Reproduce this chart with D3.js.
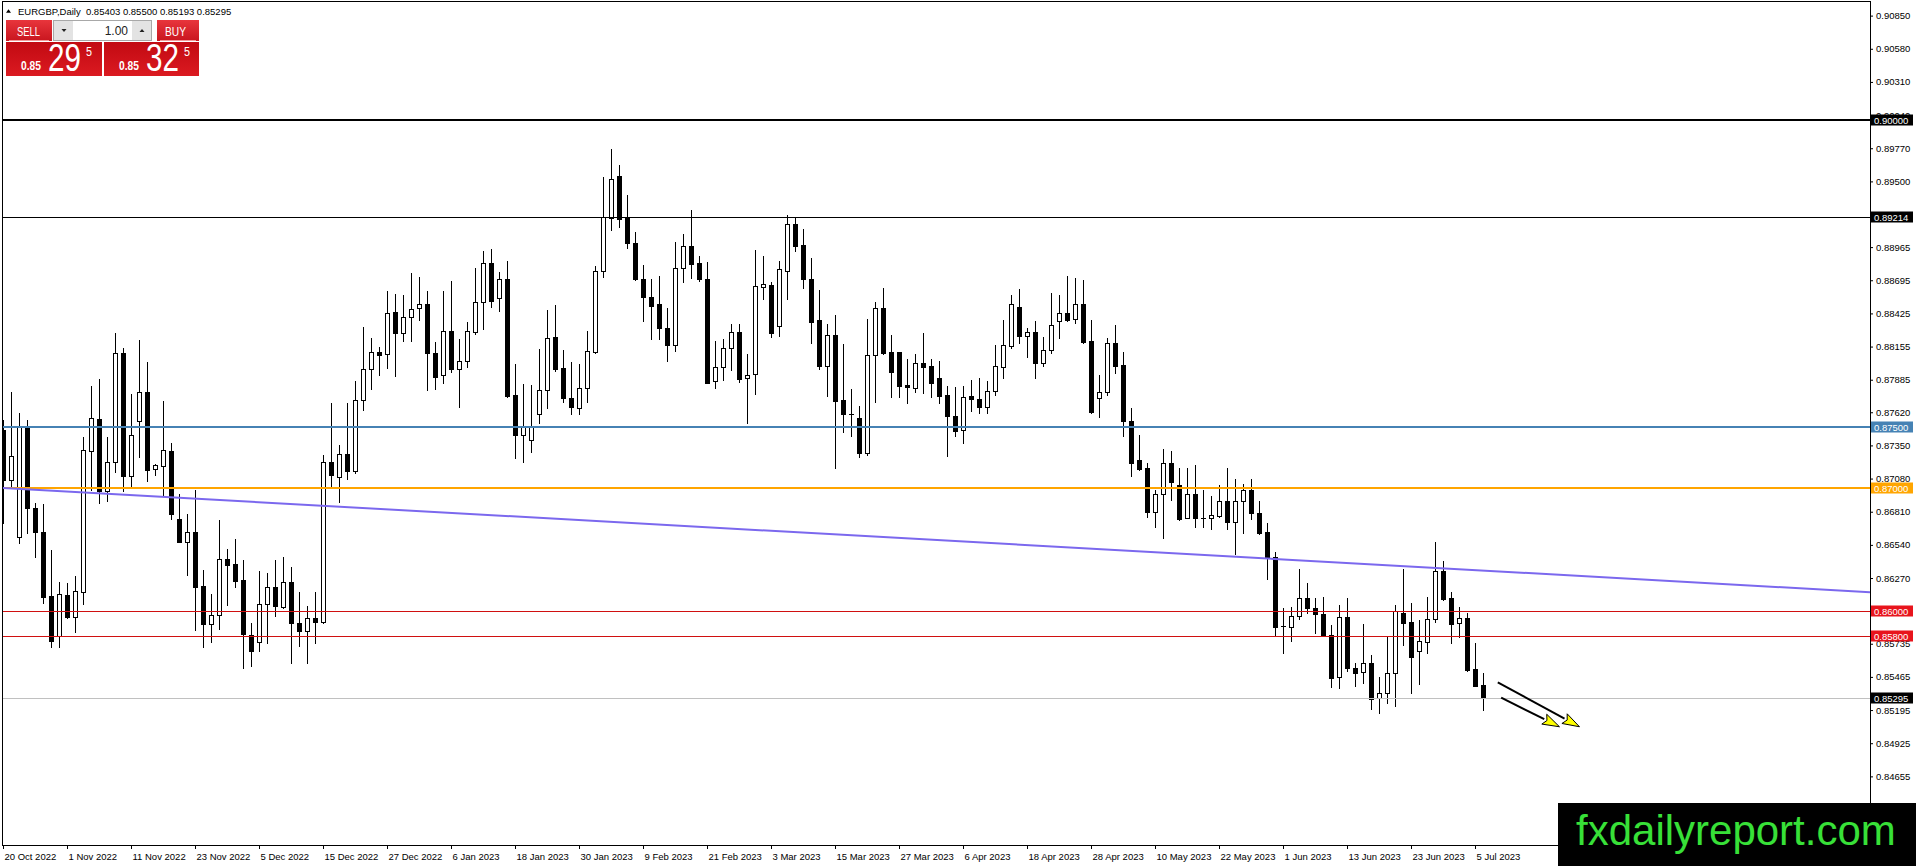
<!DOCTYPE html>
<html>
<head>
<meta charset="utf-8">
<script src="https://cdn.jsdelivr.net/npm/d3@7"></script>
<style>
html, body { margin: 0; padding: 0; background: #fff; overflow: hidden; }
svg { display: block; }
text { font-family: "Liberation Sans", Arial, sans-serif; }
</style>
</head>
<body>
<svg id="chart" width="1916" height="866"></svg>
<script>
// EURGBP daily bars, 20 Oct 2022 .. 6 Jul 2023
const open = [
  0.87476,0.87069,0.86602,0.87489,0.86838,0.86643,0.86125,0.85799,0.86133,0.85956,
  0.86160,0.87308,0.87563,0.86982,0.87213,0.88100,0.87104,0.87552,0.87785,0.87156,
  0.87185,0.87305,0.86751,0.86567,0.86645,0.86206,0.85896,0.85967,0.86423,0.86385,
  0.86255,0.85807,0.85753,0.86057,0.86201,0.86038,0.86236,0.85902,0.85842,0.85943,
  0.85916,0.87218,0.87096,0.87278,0.87145,0.87718,0.87970,0.88108,0.88092,0.88434,
  0.88263,0.88393,0.88467,0.88499,0.88100,0.87921,0.88279,0.87975,0.88035,0.88271,
  0.88521,0.88833,0.88548,0.88703,0.87758,0.87435,0.87394,0.87603,0.87802,0.88230,
  0.87978,0.87734,0.87652,0.87815,0.88108,0.88771,0.89199,0.89544,0.89199,0.88996,
  0.88703,0.88556,0.88502,0.88304,0.88171,0.88792,0.88974,0.88833,0.88703,0.87872,
  0.87992,0.88141,0.88271,0.87902,0.87932,0.88643,0.88657,0.88326,0.88774,0.89154,
  0.88983,0.88703,0.88372,0.88000,0.88250,0.87721,0.87604,0.87571,0.87286,0.88087,
  0.88467,0.88109,0.88109,0.87843,0.87821,0.88019,0.87997,0.87897,0.87761,0.87590,
  0.87476,0.87753,0.87729,0.87666,0.87794,0.87992,0.88163,0.88475,0.88244,0.88271,
  0.88024,0.88127,0.88366,0.88426,0.88377,0.88502,0.88201,0.87734,0.87788,0.88182,
  0.88005,0.87552,0.87232,0.87164,0.86805,0.86952,0.87205,0.87025,0.86757,0.86952,
  0.86757,0.86757,0.86778,0.86898,0.86724,0.86898,0.86987,0.86797,0.86642,0.86444,
  0.85879,0.85874,0.85964,0.86105,0.86023,0.85975,0.85806,0.85462,0.85950,0.85535,
  0.85502,0.85576,0.85291,0.85337,0.85494,0.85988,0.85910,0.85679,0.85752,0.85934,
  0.86327,0.86105,0.85901,0.85942,0.85527,0.85403
];
const high = [
  0.87557,0.87788,0.87612,0.87557,0.86879,0.86873,0.86499,0.86235,0.86227,0.86287,
  0.87416,0.87834,0.87888,0.87422,0.88263,0.88141,0.87769,0.88209,0.88032,0.87199,
  0.87712,0.87367,0.86955,0.86792,0.86987,0.86336,0.86138,0.86743,0.86507,0.86586,
  0.86417,0.85900,0.86328,0.86315,0.86418,0.86445,0.86358,0.86160,0.86043,0.86160,
  0.87272,0.87699,0.87354,0.87699,0.87878,0.88312,0.88222,0.88155,0.88608,0.88581,
  0.88575,0.88752,0.88724,0.88608,0.88193,0.88608,0.88689,0.88220,0.88358,0.88792,
  0.88933,0.88947,0.88765,0.88852,0.88013,0.87850,0.87842,0.88133,0.88453,0.88494,
  0.88127,0.88032,0.88013,0.88282,0.88811,0.89539,0.89764,0.89634,0.89389,0.89085,
  0.88819,0.88703,0.88730,0.88467,0.89007,0.89069,0.89267,0.88893,0.88841,0.88200,
  0.88214,0.88339,0.88339,0.88092,0.88942,0.88893,0.88684,0.88852,0.89227,0.89200,
  0.89110,0.88874,0.88616,0.88339,0.88413,0.88177,0.87810,0.87672,0.88380,0.88516,
  0.88630,0.88250,0.88109,0.88054,0.88095,0.88263,0.88054,0.88041,0.87837,0.87829,
  0.87835,0.87883,0.87897,0.87875,0.88168,0.88372,0.88575,0.88621,0.88304,0.88363,
  0.88230,0.88589,0.88575,0.88730,0.88711,0.88697,0.88371,0.87924,0.88222,0.88331,
  0.88108,0.87658,0.87435,0.87205,0.86987,0.87318,0.87305,0.87164,0.87164,0.87191,
  0.86987,0.86938,0.87028,0.87164,0.87077,0.87036,0.87077,0.86900,0.86716,0.86479,
  0.86023,0.86032,0.86341,0.86227,0.86105,0.86118,0.85888,0.86051,0.86105,0.85581,
  0.85896,0.85643,0.85467,0.85793,0.86051,0.86341,0.86064,0.85928,0.86118,0.86561,
  0.86412,0.86159,0.86032,0.85988,0.85738,0.85500
];
const low = [
  0.86716,0.87001,0.86553,0.86634,0.86445,0.86070,0.85706,0.85706,0.85942,0.85834,
  0.86059,0.86987,0.86884,0.86901,0.87137,0.86982,0.87009,0.87253,0.87063,0.87109,
  0.86947,0.86751,0.86564,0.86295,0.85847,0.85706,0.85752,0.85853,0.86051,0.86195,
  0.85535,0.85550,0.85679,0.85745,0.85964,0.86030,0.85580,0.85717,0.85580,0.85745,
  0.85907,0.87001,0.86892,0.87074,0.87129,0.87639,0.87813,0.87927,0.87984,0.87919,
  0.88198,0.88203,0.88369,0.87802,0.87813,0.87861,0.87951,0.87666,0.87992,0.88258,
  0.88296,0.88480,0.88448,0.87742,0.87248,0.87215,0.87296,0.87530,0.87652,0.87959,
  0.87701,0.87603,0.87603,0.87701,0.88100,0.88719,0.89104,0.89126,0.88955,0.88697,
  0.88366,0.88214,0.88214,0.88038,0.88122,0.88678,0.88711,0.88686,0.87856,0.87815,
  0.87883,0.87964,0.87870,0.87530,0.87767,0.88540,0.88231,0.88244,0.88546,0.88936,
  0.88635,0.88187,0.87970,0.87756,0.87164,0.87457,0.87430,0.87259,0.87273,0.87702,
  0.88095,0.87748,0.87742,0.87693,0.87783,0.87775,0.87748,0.87693,0.87267,0.87430,
  0.87373,0.87634,0.87617,0.87612,0.87761,0.87897,0.88141,0.88187,0.88073,0.87897,
  0.87997,0.88100,0.88228,0.88366,0.88344,0.88187,0.87617,0.87579,0.87761,0.87937,
  0.87430,0.87104,0.87150,0.86770,0.86689,0.86594,0.86906,0.86746,0.86757,0.86683,
  0.86689,0.86667,0.86765,0.86667,0.86466,0.86640,0.86749,0.86629,0.86262,0.85806,
  0.85657,0.85760,0.85934,0.85983,0.85820,0.85795,0.85386,0.85372,0.85516,0.85394,
  0.85418,0.85201,0.85169,0.85255,0.85231,0.85725,0.85337,0.85407,0.85657,0.85915,
  0.86091,0.85744,0.85787,0.85516,0.85390,0.85193
];
const close = [
  0.87069,0.87264,0.87503,0.86844,0.86643,0.86119,0.85761,0.86138,0.85956,0.86162,
  0.87313,0.87571,0.86982,0.87213,0.88100,0.87104,0.87432,0.87785,0.87150,0.87191,
  0.87310,0.86792,0.86567,0.86645,0.86200,0.85896,0.85967,0.86423,0.86377,0.86249,
  0.85815,0.85679,0.86057,0.86201,0.86043,0.86236,0.85902,0.85842,0.85943,0.85916,
  0.87218,0.87110,0.87278,0.87145,0.87718,0.87970,0.88108,0.88089,0.88426,0.88263,
  0.88393,0.88458,0.88499,0.88100,0.87910,0.88279,0.87975,0.88035,0.88279,0.88515,
  0.88833,0.88529,0.88703,0.87753,0.87435,0.87500,0.87508,0.87802,0.88222,0.87975,
  0.87734,0.87666,0.87815,0.88119,0.88771,0.89207,0.89517,0.89191,0.88996,0.88703,
  0.88561,0.88488,0.88304,0.88171,0.88792,0.88974,0.88825,0.88703,0.87861,0.87992,
  0.88141,0.88271,0.87894,0.87926,0.88649,0.88662,0.88263,0.88784,0.89154,0.88977,
  0.88703,0.88358,0.88000,0.88250,0.87715,0.87604,0.87606,0.87292,0.88087,0.88467,
  0.88101,0.87951,0.87837,0.87824,0.88019,0.87992,0.87856,0.87756,0.87593,0.87471,
  0.87748,0.87729,0.87666,0.87794,0.87997,0.88168,0.88502,0.88244,0.88271,0.88024,
  0.88127,0.88328,0.88426,0.88371,0.88502,0.88195,0.87625,0.87788,0.88182,0.88000,
  0.87552,0.87205,0.87156,0.86805,0.86952,0.87205,0.87055,0.86751,0.86952,0.86757,
  0.86760,0.86784,0.86898,0.86724,0.86898,0.86987,0.86797,0.86640,0.86439,0.85874,
  0.85882,0.85964,0.86105,0.86023,0.85975,0.85798,0.85454,0.85956,0.85540,0.85500,
  0.85581,0.85283,0.85331,0.85494,0.86002,0.85901,0.85630,0.85757,0.85934,0.86327,
  0.86100,0.85893,0.85942,0.85521,0.85394,0.85295
];

// one label every 8 bars
const xLabels = ["20 Oct 2022","1 Nov 2022","11 Nov 2022","23 Nov 2022","5 Dec 2022","15 Dec 2022",
  "27 Dec 2022","6 Jan 2023","18 Jan 2023","30 Jan 2023","9 Feb 2023","21 Feb 2023","3 Mar 2023",
  "15 Mar 2023","27 Mar 2023","6 Apr 2023","18 Apr 2023","28 Apr 2023","10 May 2023","22 May 2023",
  "1 Jun 2023","13 Jun 2023","23 Jun 2023","5 Jul 2023"];
const yTicks = [0.90850,0.90580,0.90310,0.90040,0.89770,0.89500,0.89230,0.88965,0.88695,0.88425,
  0.88155,0.87885,0.87620,0.87350,0.87080,0.86810,0.86540,0.86270,0.86000,0.85735,0.85465,
  0.85195,0.84925,0.84655];

// horizontal levels and the bid
const levelPrices = [0.90000, 0.89214, 0.87500, 0.87000, 0.86000, 0.85800];
const bidPrice = 0.85295;

// trend line (bar index, price), drawn as a ray
const trendIdx = [0, 185];
const trendPrice = [0.87004, 0.86331];

// two down arrows after the last bar
const arrowFromIdx = [186.85, 187.27];
const arrowFromPrice = [0.85421, 0.85296];
const arrowToIdx = [197.06, 194.56];
const arrowToPrice = [0.85059, 0.85059];

const header = "EURGBP,Daily  0.85403 0.85500 0.85193 0.85295";

// ---------------------------------------------------------------
const svg = d3.select("#chart");
const N = close.length;
const axisX = 1870;
const axisY = 845;

const x = d3.scaleLinear().domain([0, N - 1]).range([3, 3 + 8 * (N - 1)]);
const y = d3.scaleLinear().domain([0.86, 0.90]).range([611.2, 120]);

const levelColor = ["#000000", "#000000", "#4682B4", "#FFA500", "#D01010", "#D01010"];
const levelWidth = [2, 1, 2, 2, 1, 1];
const tagColor = ["#000000", "#000000", "#4682B4", "#FFA500", "#E8141C", "#E8141C"];

const defs = svg.append("defs");
defs.append("clipPath").attr("id", "plot")
  .append("rect").attr("x", 3).attr("y", 2).attr("width", axisX - 3).attr("height", axisY - 2);

const btnGrad = defs.append("linearGradient").attr("id", "btnGrad")
  .attr("x1", 0).attr("y1", 0).attr("x2", 0).attr("y2", 1);
btnGrad.append("stop").attr("offset", "0%").attr("stop-color", "#E8353C");
btnGrad.append("stop").attr("offset", "100%").attr("stop-color", "#C9161F");
const priceGrad = defs.append("linearGradient").attr("id", "priceGrad")
  .attr("x1", 0).attr("y1", 0).attr("x2", 0).attr("y2", 1);
priceGrad.append("stop").attr("offset", "0%").attr("stop-color", "#C20A12");
priceGrad.append("stop").attr("offset", "100%").attr("stop-color", "#DB1A21");

svg.append("rect").attr("width", 1916).attr("height", 866).attr("fill", "#fff");

const plot = svg.append("g").attr("clip-path", "url(#plot)");

// candles
const bars = d3.range(N);
const cg = plot.append("g").attr("shape-rendering", "crispEdges");
cg.selectAll("line.wick").data(bars).join("line")
  .attr("class", "wick")
  .attr("x1", i => x(i) + 0.5).attr("x2", i => x(i) + 0.5)
  .attr("y1", i => Math.round(y(high[i]))).attr("y2", i => Math.round(y(low[i])) + 1)
  .attr("stroke", "#000");

cg.selectAll("rect.body").data(bars.filter(i => Math.abs(Math.round(y(open[i])) - Math.round(y(close[i]))) >= 1)).join("rect")
  .attr("class", "body")
  .attr("x", i => x(i) - 1.5)
  .attr("width", 4)
  .attr("y", i => Math.round(y(Math.max(open[i], close[i]))) + 0.5)
  .attr("height", i => Math.round(y(Math.min(open[i], close[i]))) - Math.round(y(Math.max(open[i], close[i]))))
  .attr("fill", i => close[i] > open[i] ? "#fff" : "#000")
  .attr("stroke", "#000");

cg.selectAll("line.doji").data(bars.filter(i => Math.abs(Math.round(y(open[i])) - Math.round(y(close[i]))) < 1)).join("line")
  .attr("class", "doji")
  .attr("x1", i => x(i) - 2).attr("x2", i => x(i) + 3)
  .attr("y1", i => Math.round(y(close[i])) + 0.5).attr("y2", i => Math.round(y(close[i])) + 0.5)
  .attr("stroke", "#000");

// levels
plot.selectAll("line.level").data(levelPrices).join("line")
  .attr("class", "level")
  .attr("x1", 0).attr("x2", axisX)
  .attr("y1", (d, i) => Math.round(y(d)) + (levelWidth[i] === 1 ? 0.5 : 0))
  .attr("y2", (d, i) => Math.round(y(d)) + (levelWidth[i] === 1 ? 0.5 : 0))
  .attr("stroke", (d, i) => levelColor[i])
  .attr("stroke-width", (d, i) => levelWidth[i]);

plot.append("line")
  .attr("x1", 0).attr("x2", axisX)
  .attr("y1", Math.round(y(bidPrice)) + 0.5).attr("y2", Math.round(y(bidPrice)) + 0.5)
  .attr("stroke", "#C0C0C0");

// trend ray
const slope = (trendPrice[1] - trendPrice[0]) / (trendIdx[1] - trendIdx[0]);
const rayEnd = x.invert(axisX);
plot.append("line")
  .attr("x1", x(trendIdx[0]) - 4).attr("y1", y(trendPrice[0] - 0.5 * slope))
  .attr("x2", x(rayEnd)).attr("y2", y(trendPrice[0] + slope * (rayEnd - trendIdx[0])))
  .attr("stroke", "#7B68EE").attr("stroke-width", 2);

// arrows
arrowFromIdx.forEach((d, k) => {
  const x0 = x(d), y0 = y(arrowFromPrice[k]);
  const x1 = x(arrowToIdx[k]), y1 = y(arrowToPrice[k]);
  const len = Math.hypot(x1 - x0, y1 - y0);
  const ux = (x1 - x0) / len, uy = (y1 - y0) / len;
  const hl = 17, hw = 5.5;
  const bx = x1 - ux * hl, by = y1 - uy * hl;
  plot.append("line")
    .attr("x1", x0).attr("y1", y0).attr("x2", bx).attr("y2", by)
    .attr("stroke", "#000").attr("stroke-width", 2);
  plot.append("path")
    .attr("d", `M${x1},${y1}L${bx - uy * hw},${by + ux * hw}L${bx + ux * 3},${by + uy * 3}L${bx + uy * hw},${by - ux * hw}Z`)
    .attr("fill", "#FFFF00").attr("stroke", "#000").attr("stroke-width", 1);
});

// frame
svg.append("rect")
  .attr("x", 2.5).attr("y", 1.5).attr("width", axisX - 2).attr("height", axisY - 1)
  .attr("fill", "none").attr("stroke", "#000").attr("shape-rendering", "crispEdges");

// price axis
const yAxis = d3.axisRight(y).tickValues(yTicks).tickSize(3).tickPadding(3).tickFormat(d3.format(".5f"));
const gy = svg.append("g").attr("transform", `translate(${axisX},0)`).call(yAxis);
gy.select(".domain").remove();
gy.selectAll("line").attr("stroke", "#000");
gy.selectAll("text")
  .attr("font-family", '"Liberation Sans", Arial, sans-serif')
  .attr("font-size", 9.5).attr("fill", "#000");

// time axis
const xAxis = d3.axisBottom(x).tickValues(d3.range(0, N, 8)).tickSize(4)
  .tickFormat((d, i) => xLabels[i]);
const gx = svg.append("g").attr("transform", `translate(0,${axisY})`).call(xAxis);
gx.select(".domain").remove();
gx.selectAll("line").attr("stroke", "#000");
gx.selectAll("text")
  .attr("text-anchor", "start").attr("x", 1).attr("y", 8)
  .attr("font-family", '"Liberation Sans", Arial, sans-serif')
  .attr("font-size", 9.5).attr("fill", "#000");

// price tags on the axis
const tags = levelPrices.concat([bidPrice]);
const tagFill = tagColor.concat(["#000000"]);
const tg = svg.append("g");
tg.selectAll("rect").data(tags).join("rect")
  .attr("x", axisX + 1).attr("y", d => Math.round(y(d)) - 5.5)
  .attr("width", 42).attr("height", 11)
  .attr("fill", (d, i) => tagFill[i]);
tg.selectAll("text").data(tags).join("text")
  .attr("x", axisX + 4).attr("y", d => Math.round(y(d)) + 3.8)
  .attr("font-size", 9.5).attr("fill", "#fff")
  .text(d => d3.format(".5f")(d));

// header line
svg.append("path").attr("d", "M6,12.8L8.5,9.2L11,12.8Z").attr("fill", "#000");
svg.append("text").attr("x", 18).attr("y", 14.5)
  .attr("font-size", 9.5).attr("fill", "#000")
  .style("white-space", "pre").text(header);

// one-click trading panel
const panel = svg.append("g");
const narrow = '"Liberation Sans Narrow", "Liberation Sans", Arial, sans-serif';
panel.append("rect").attr("x", 6).attr("y", 20).attr("width", 46).attr("height", 21).attr("fill", "url(#btnGrad)");
panel.append("rect").attr("x", 157).attr("y", 20).attr("width", 42).attr("height", 21).attr("fill", "url(#btnGrad)");
panel.append("line").attr("x1", 9).attr("x2", 49).attr("y1", 40.5).attr("y2", 40.5).attr("stroke", "#F29A9A");
panel.append("line").attr("x1", 160).attr("x2", 196).attr("y1", 40.5).attr("y2", 40.5).attr("stroke", "#F29A9A");
panel.append("text").attr("x", 17).attr("y", 35.5)
  .attr("font-family", narrow).attr("font-size", 12).attr("fill", "#fff")
  .attr("textLength", 23).attr("lengthAdjust", "spacingAndGlyphs").text("SELL");
panel.append("text").attr("x", 165).attr("y", 35.5)
  .attr("font-family", narrow).attr("font-size", 12).attr("fill", "#fff")
  .attr("textLength", 21).attr("lengthAdjust", "spacingAndGlyphs").text("BUY");

panel.append("rect").attr("x", 53.5).attr("y", 20.5).attr("width", 98).attr("height", 20)
  .attr("fill", "#fff").attr("stroke", "#A8A8A8");
panel.append("rect").attr("x", 54).attr("y", 21).attr("width", 19).attr("height", 19).attr("fill", "#E3E3E3");
panel.append("rect").attr("x", 132).attr("y", 21).attr("width", 19).attr("height", 19).attr("fill", "#E3E3E3");
panel.append("path").attr("d", "M61.5,29L66.5,29L64,32Z").attr("fill", "#222");
panel.append("path").attr("d", "M139.5,32L144.5,32L142,29Z").attr("fill", "#222");
panel.append("text").attr("x", 128).attr("y", 35).attr("text-anchor", "end")
  .attr("font-size", 12).attr("fill", "#222").text("1.00");

panel.append("rect").attr("x", 6).attr("y", 42).attr("width", 96).attr("height", 34).attr("fill", "url(#priceGrad)");
panel.append("rect").attr("x", 104).attr("y", 42).attr("width", 95).attr("height", 34).attr("fill", "url(#priceGrad)");

// price quote: small handle, big pips, superscript fraction, in one text run
[[21, "29"], [119, "32"]].forEach(([bx, big]) => {
  const t = panel.append("text").attr("x", bx).attr("y", 69.5)
    .attr("font-family", narrow).attr("fill", "#fff");
  t.append("tspan").attr("font-weight", "bold").attr("font-size", 12.5)
    .attr("textLength", 20).attr("lengthAdjust", "spacingAndGlyphs").text("0.85");
  t.append("tspan").attr("x", bx + 27).attr("y", 71).attr("font-size", 38)
    .attr("textLength", 33).attr("lengthAdjust", "spacingAndGlyphs").text(big);
  t.append("tspan").attr("x", bx + 65).attr("y", 55.5).attr("font-size", 12.5)
    .attr("textLength", 6).attr("lengthAdjust", "spacingAndGlyphs").text("5");
});

// watermark
svg.append("rect").attr("x", 1558).attr("y", 803).attr("width", 358).attr("height", 63).attr("fill", "#000");
svg.append("text").attr("x", 1576).attr("y", 845)
  .attr("font-size", 42).attr("fill", "#38E038").text("fxdailyreport.com");
</script>
</body>
</html>
